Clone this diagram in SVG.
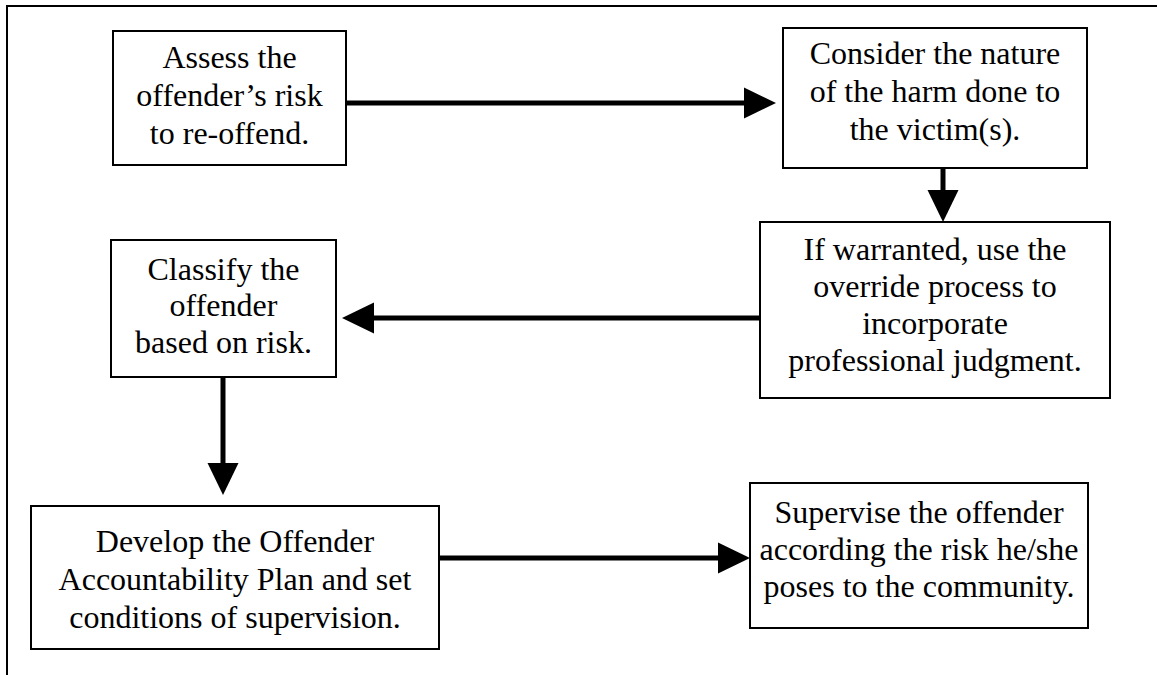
<svg xmlns="http://www.w3.org/2000/svg" width="1157" height="675" viewBox="0 0 1157 675">
  <defs>
    <marker id="ah" markerUnits="userSpaceOnUse" markerWidth="32" markerHeight="31" refX="0" refY="15.5" orient="auto" overflow="visible">
      <path d="M0,0 L32,15.5 L0,31 Z" fill="#000"/>
    </marker>
    <style>
      .box { fill: #fff; stroke: #000; stroke-width: 2; }
      .lbl { font-family: "Liberation Serif", "Times New Roman", serif; font-size: 32px; fill: #000; text-anchor: middle; }
      .conn { stroke: #000; stroke-width: 5; fill: none; marker-end: url(#ah); }
      .frame { stroke: #000; stroke-width: 2; fill: none; }
    </style>
  </defs>
  <rect x="0" y="0" width="1157" height="675" fill="#fff"/>
  <path class="frame" d="M7,675 V6 H1157"/>

  <g id="connectors">
    <line class="conn" x1="346" y1="103" x2="744" y2="103"/>
    <line class="conn" x1="943" y1="168" x2="943" y2="190"/>
    <line class="conn" x1="760" y1="318" x2="374" y2="318"/>
    <line class="conn" x1="223" y1="377" x2="223" y2="463"/>
    <line class="conn" x1="439" y1="558" x2="718" y2="558"/>
  </g>

  <g id="assess">
    <rect class="box" x="113" y="31" width="233" height="134"/>
    <text class="lbl" x="229.5" y="68">Assess the</text>
    <text class="lbl" x="229.5" y="106">offender’s risk</text>
    <text class="lbl" x="229.5" y="144">to re-offend.</text>
  </g>

  <g id="consider">
    <rect class="box" x="783" y="28" width="304" height="140"/>
    <text class="lbl" x="935" y="64">Consider the nature</text>
    <text class="lbl" x="935" y="102">of the harm done to</text>
    <text class="lbl" x="935" y="140">the victim(s).</text>
  </g>

  <g id="override">
    <rect class="box" x="760" y="222" width="350" height="176"/>
    <text class="lbl" x="935" y="260">If warranted, use the</text>
    <text class="lbl" x="935" y="297">override process to</text>
    <text class="lbl" x="935" y="334">incorporate</text>
    <text class="lbl" x="935" y="371">professional judgment.</text>
  </g>

  <g id="classify">
    <rect class="box" x="111" y="240" width="225" height="137"/>
    <text class="lbl" x="223.5" y="280">Classify the</text>
    <text class="lbl" x="223.5" y="316">offender</text>
    <text class="lbl" x="223.5" y="353">based on risk.</text>
  </g>

  <g id="develop">
    <rect class="box" x="31" y="506" width="408" height="143"/>
    <text class="lbl" x="235" y="552">Develop the Offender</text>
    <text class="lbl" x="235" y="590">Accountability Plan and set</text>
    <text class="lbl" x="235" y="628">conditions of supervision.</text>
  </g>

  <g id="supervise">
    <rect class="box" x="750" y="483" width="338" height="145"/>
    <text class="lbl" x="919" y="523">Supervise the offender</text>
    <text class="lbl" x="919" y="560">according the risk he/she</text>
    <text class="lbl" x="919" y="597">poses to the community.</text>
  </g>
</svg>
